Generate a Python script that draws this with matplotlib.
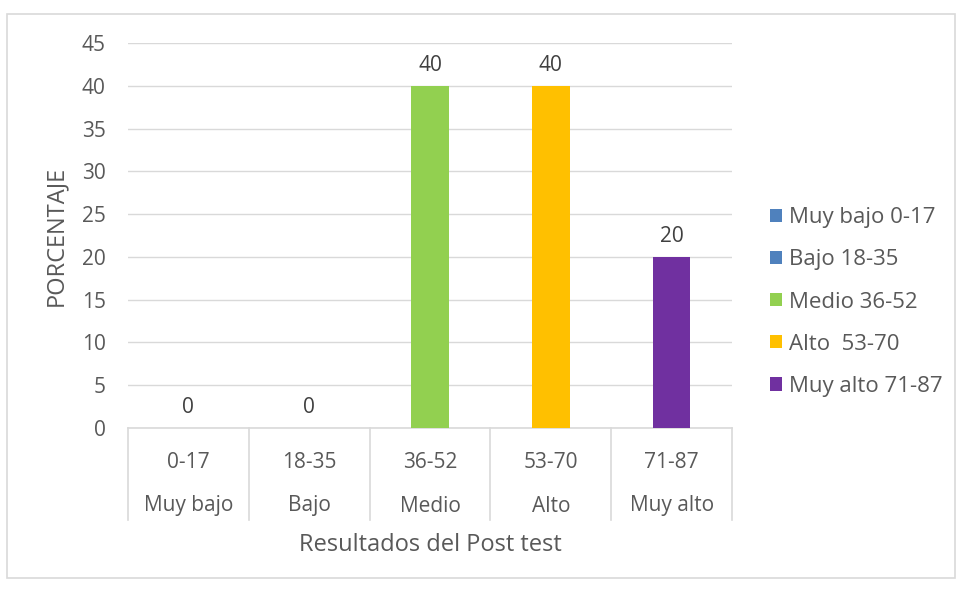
import matplotlib
matplotlib.use("Agg")
import matplotlib.pyplot as plt
from matplotlib.patches import Patch, Rectangle
from matplotlib.lines import Line2D

ranges = ["0-17", "18-35", "36-52", "53-70", "71-87"]
levels = ["Muy bajo", "Bajo", "Medio", "Alto", "Muy alto"]
values = [0, 0, 40, 40, 20]
legend_labels = ["Muy bajo 0-17", "Bajo 18-35", "Medio 36-52", "Alto  53-70", "Muy alto 71-87"]
colors = ["#4F81BD", "#4F81BD", "#92D050", "#FFC000", "#7030A0"]
yticks = [0, 5, 10, 15, 20, 25, 30, 35, 40, 45]

plt.rcParams['font.family'] = ['Open Sans', 'DejaVu Sans']
txt = "#595959"
grid = "#D9D9D9"

fig = plt.figure(figsize=(9.64, 5.92), dpi=100)
fig.patches.append(Rectangle((7/964, 1-578/592), 948/964, 564/592, transform=fig.transFigure,
                             fill=False, edgecolor=grid, linewidth=1.2))
ax = fig.add_axes([128/964, 1-428/592, 604/964, 385/592])

x = list(range(len(values)))
ax.bar(x, values, width=0.31, color=colors, zorder=3)
ax.set_xlim(-0.5, len(values) - 0.5)
ax.set_ylim(0, 45)
ax.set_yticks(yticks)
ax.yaxis.grid(True, color=grid, linewidth=1)
ax.set_axisbelow(True)
for s in ["top", "right", "left"]:
    ax.spines[s].set_visible(False)
ax.spines["bottom"].set_color(grid)
ax.spines["bottom"].set_linewidth(1.2)
ax.tick_params(axis="y", length=0, labelsize=15, labelcolor=txt, pad=16)
ax.tick_params(axis="x", length=0, labelbottom=False)

for xi, v in zip(x, values):
    ax.annotate(str(v), (xi, v), xytext=(0, 7), textcoords="offset points",
                ha="center", va="bottom", fontsize=15, color="#404040")

tr = ax.get_xaxis_transform()
for b in range(len(values) + 1):
    ax.add_line(Line2D([b - 0.5, b - 0.5], [0, -92/385], transform=tr, color=grid,
                       linewidth=1.2, clip_on=False))
for xi, r, l in zip(x, ranges, levels):
    ax.text(xi, -34/385, r, transform=tr, ha="center", va="center", fontsize=15, color=txt)
    ax.text(xi, -78/385, l, transform=tr, ha="center", va="center", fontsize=15, color=txt)

ax.text(2, -117/385, "Resultados del Post test", transform=tr, ha="center", va="center",
        fontsize=17, color=txt)
ax.set_ylabel("PORCENTAJE", fontsize=17, color=txt, labelpad=10)

handles = [Patch(facecolor=c, edgecolor="none") for c in colors]
leg = fig.legend(handles, legend_labels, loc="center left", bbox_to_anchor=(770/964, 1-302/592),
                 frameon=False, fontsize=16, labelcolor=txt, handlelength=0.55, handleheight=0.55,
                 handletextpad=0.3, labelspacing=0.95, borderaxespad=0, borderpad=0)

fig.savefig("out.png", dpi=100)
